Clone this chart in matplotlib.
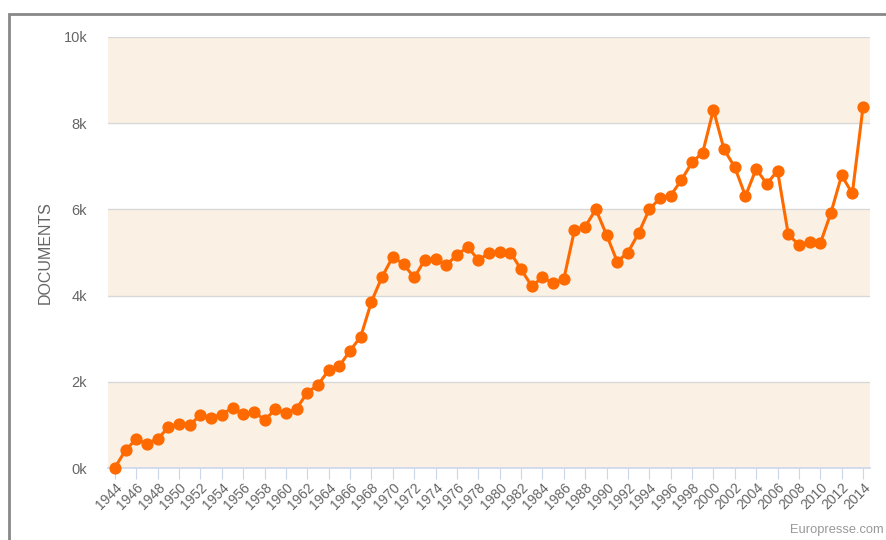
import matplotlib.pyplot as plt
from matplotlib.patches import Rectangle

plt.rcParams["font.family"] = ["Liberation Sans", "DejaVu Sans"]

# Documents per year
years = list(range(1944, 2015))
documents = [
    10, 420, 670, 560, 680, 940, 1020, 1000, 1230, 1170,
    1240, 1400, 1250, 1310, 1110, 1360, 1270, 1380, 1750, 1930,
    2270, 2370, 2720, 3050, 3860, 4440, 4900, 4730, 4420, 4830,
    4840, 4710, 4940, 5130, 4830, 4980, 5020, 5000, 4610, 4220,
    4420, 4290, 4380, 5520, 5600, 6000, 5410, 4790, 5000, 5450,
    6000, 6260, 6320, 6680, 7090, 7320, 8310, 7390, 6980, 6310,
    6940, 6590, 6900, 5430, 5170, 5250, 5210, 5920, 6790, 6370,
    8370,
]
y_ticks = [0, 2000, 4000, 6000, 8000, 10000]
y_tick_labels = ["0k", "2k", "4k", "6k", "8k", "10k"]
x_ticks = years[::2]

line_color = "#ff6a00"
band_color = "#fbf0e4"
text_color = "#666666"

fig = plt.figure(figsize=(8.86, 5.4), dpi=100)
ax = fig.add_axes([108 / 886, 72 / 540, 762 / 886, 431 / 540])

# Alternating bands
for i in range(0, 10000, 2000):
    if (i // 2000) % 2 == 0:
        ax.axhspan(i, i + 2000, color=band_color, zorder=0, lw=0)
for yt in y_ticks[1:]:
    ax.axhline(yt, color="#d8d8d8", lw=1, zorder=1)

ax.plot(years, documents, color=line_color, lw=2.2, marker="o",
        markersize=7.8, zorder=3, clip_on=False)

ax.set_xlim(1944 - 7 / 10.69, 2014 + 7 / 10.69)
ax.set_ylim(0, 10000)

ax.set_yticks(y_ticks)
ax.set_yticklabels(y_tick_labels)
ax.set_xticks(x_ticks)
ax.set_xticklabels([str(y) for y in x_ticks], rotation=45, ha="right",
                   rotation_mode="anchor")

for s in ["top", "right", "left"]:
    ax.spines[s].set_visible(False)
ax.spines["bottom"].set_color("#ccd6eb")
ax.spines["bottom"].set_linewidth(1.2)
ax.tick_params(axis="x", direction="out", length=8, color="#ccd6eb",
               labelsize=10, labelcolor=text_color, pad=1)
ax.tick_params(axis="y", length=0, labelsize=10.5, labelcolor=text_color, pad=15)

ax.set_ylabel("DOCUMENTS", color=text_color, fontsize=11.5, labelpad=8)

fig.text(884 / 886, 10 / 540, "Europresse.com", ha="right", va="center",
         color="#999999", fontsize=9.3)

# Gray frame on the left and top edges
fig.patches.append(Rectangle((9 / 886, -0.1), 1.2, (526 / 540) + 0.1,
                             transform=fig.transFigure, fill=False,
                             edgecolor="#888888", lw=2))

fig.savefig("out.png", dpi=100)
